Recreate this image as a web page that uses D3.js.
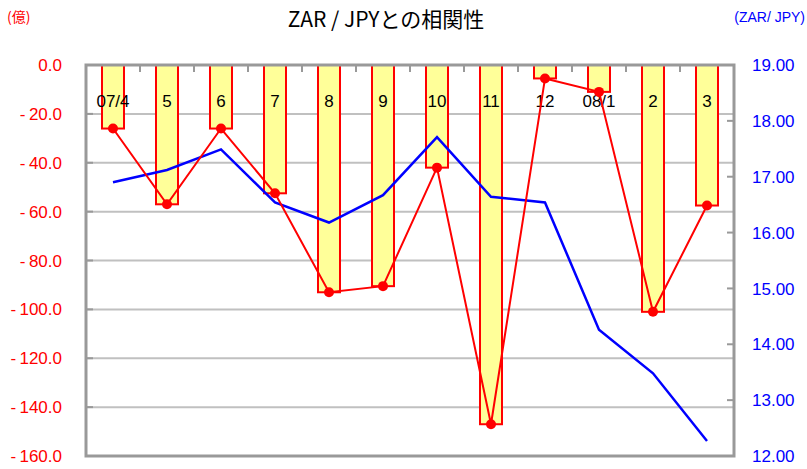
<!DOCTYPE html>
<html>
<head>
<meta charset="utf-8">
<script src="https://cdn.jsdelivr.net/npm/d3@7"></script>
<style>
  body { margin: 0; background: #fff; }
  text { font-family: 'Liberation Sans', Arial, sans-serif; }
</style>
</head>
<body>
<div id="chart"></div>
<script>
const months = ['07/4', '5', '6', '7', '8', '9', '10', '11', '12', '08/1', '2', '3']
const flows = [-26, -57, -26, -52.5, -93, -90.5, -42, -147, -5.5, -11, -101, -57.5]
const zarJpy = [16.9, 17.12, 17.49, 16.54, 16.18, 16.67, 17.71, 16.64, 16.54, 14.26, 13.48, 12.27]
const leftTicks = [0, -20, -40, -60, -80, -100, -120, -140, -160]
const rightTicks = [19, 18, 17, 16, 15, 14, 13, 12]

const margin = { top: 65, left: 86, right: 73, bottom: 13 }
const width = 807 - margin.left - margin.right
const height = 469 - margin.top - margin.bottom

const root = d3
  .select('#chart')
  .append('svg')
  .attr('width', 807)
  .attr('height', 469)

const svg = root
  .append('g')
  .attr('transform', 'translate(' + margin.left + ',' + margin.top + ')')

const xBand = d3.scaleBand().domain(months).range([0, width])
const xCenter = d => xBand(d) + xBand.bandwidth() / 2

const yLeft = d3.scaleLinear().domain([0, -160]).range([0, height])
const yRight = d3.scaleLinear().domain([19, 12]).range([0, height])

// gridlines
svg
  .selectAll('.grid')
  .data(leftTicks.filter(d => d !== 0 && d !== -160))
  .enter()
  .append('line')
  .attr('x1', 0)
  .attr('x2', width)
  .attr('y1', d => yLeft(d))
  .attr('y2', d => yLeft(d))
  .attr('stroke', '#c0c0c0')
  .attr('stroke-width', 2)

// left ticks (inward)
svg
  .selectAll('.ltick')
  .data(leftTicks)
  .enter()
  .append('line')
  .attr('x1', 0)
  .attr('x2', 7)
  .attr('y1', d => yLeft(d))
  .attr('y2', d => yLeft(d))
  .attr('stroke', '#999')
  .attr('stroke-width', 2)

// right ticks (inward)
svg
  .selectAll('.rtick')
  .data(rightTicks)
  .enter()
  .append('line')
  .attr('x1', width - 7)
  .attr('x2', width)
  .attr('y1', d => yRight(d))
  .attr('y2', d => yRight(d))
  .attr('stroke', '#999')
  .attr('stroke-width', 2)

// category ticks on top axis
svg
  .selectAll('.ctick')
  .data(months.slice(1))
  .enter()
  .append('line')
  .attr('x1', d => xBand(d))
  .attr('x2', d => xBand(d))
  .attr('y1', 0)
  .attr('y2', 7)
  .attr('stroke', '#999')
  .attr('stroke-width', 2)

// bars
svg
  .selectAll('.bar')
  .data(months)
  .enter()
  .append('rect')
  .attr('x', d => xCenter(d) - 11)
  .attr('width', 22)
  .attr('y', 0)
  .attr('height', (d, i) => yLeft(flows[i]) - yLeft(0))
  .attr('fill', '#ffff99')
  .attr('stroke', '#ff0000')
  .attr('stroke-width', 2)

// frame
svg
  .append('rect')
  .attr('x', 0)
  .attr('y', 0)
  .attr('width', width)
  .attr('height', height)
  .attr('fill', 'none')
  .attr('stroke', '#999')
  .attr('stroke-width', 3)

// category labels
svg
  .selectAll('.cat')
  .data(months)
  .enter()
  .append('text')
  .text(d => d)
  .attr('x', d => xCenter(d))
  .attr('y', 42)
  .attr('text-anchor', 'middle')
  .style('font-size', '17px')
  .attr('fill', '#000')

// blue line
const blueLine = d3
  .line()
  .x((d, i) => xCenter(months[i]))
  .y(d => yRight(d))

svg
  .append('path')
  .datum(zarJpy)
  .attr('d', blueLine)
  .attr('fill', 'none')
  .attr('stroke', '#0000ff')
  .attr('stroke-width', 2.5)

// red line + dots
const redLine = d3
  .line()
  .x((d, i) => xCenter(months[i]))
  .y(d => yLeft(d))

svg
  .append('path')
  .datum(flows)
  .attr('d', redLine)
  .attr('fill', 'none')
  .attr('stroke', '#ff0000')
  .attr('stroke-width', 2)

svg
  .selectAll('.dot')
  .data(flows)
  .enter()
  .append('circle')
  .attr('cx', (d, i) => xCenter(months[i]))
  .attr('cy', d => yLeft(d))
  .attr('r', 5)
  .attr('fill', '#ff0000')

// axis labels
svg
  .selectAll('.llab')
  .data(leftTicks)
  .enter()
  .append('text')
  .text(d => (d < 0 ? '-\u2009' + d3.format('.1f')(-d) : d3.format('.1f')(d)))
  .attr('x', -24)
  .attr('y', d => yLeft(d))
  .attr('dy', '0.36em')
  .attr('text-anchor', 'end')
  .style('font-size', '17px')
  .attr('fill', '#ff0000')

svg
  .selectAll('.rlab')
  .data(rightTicks)
  .enter()
  .append('text')
  .text(d => d3.format('.2f')(d))
  .attr('x', width + 18)
  .attr('y', d => yRight(d))
  .attr('dy', '0.36em')
  .attr('text-anchor', 'start')
  .style('font-size', '17px')
  .attr('fill', '#0000ff')

// titles
root
  .append('text')
  .text('ZAR / JPYとの相関性')
  .attr('x', 386)
  .attr('y', 27)
  .attr('text-anchor', 'middle')
  .style('font-family', "'Noto Sans CJK JP', sans-serif")
  .style('font-size', '21px')
  .attr('fill', '#000')

root
  .append('text')
  .text('(億)')
  .attr('x', 7)
  .attr('y', 22)
  .style('font-family', "'Noto Sans CJK JP', sans-serif")
  .style('font-size', '14px')
  .attr('fill', '#ff0000')

root
  .append('text')
  .text('(ZAR/ JPY)')
  .attr('x', 805)
  .attr('y', 22)
  .attr('text-anchor', 'end')
  .style('font-size', '14px')
  .attr('fill', '#0000ff')
</script>
</body>
</html>
